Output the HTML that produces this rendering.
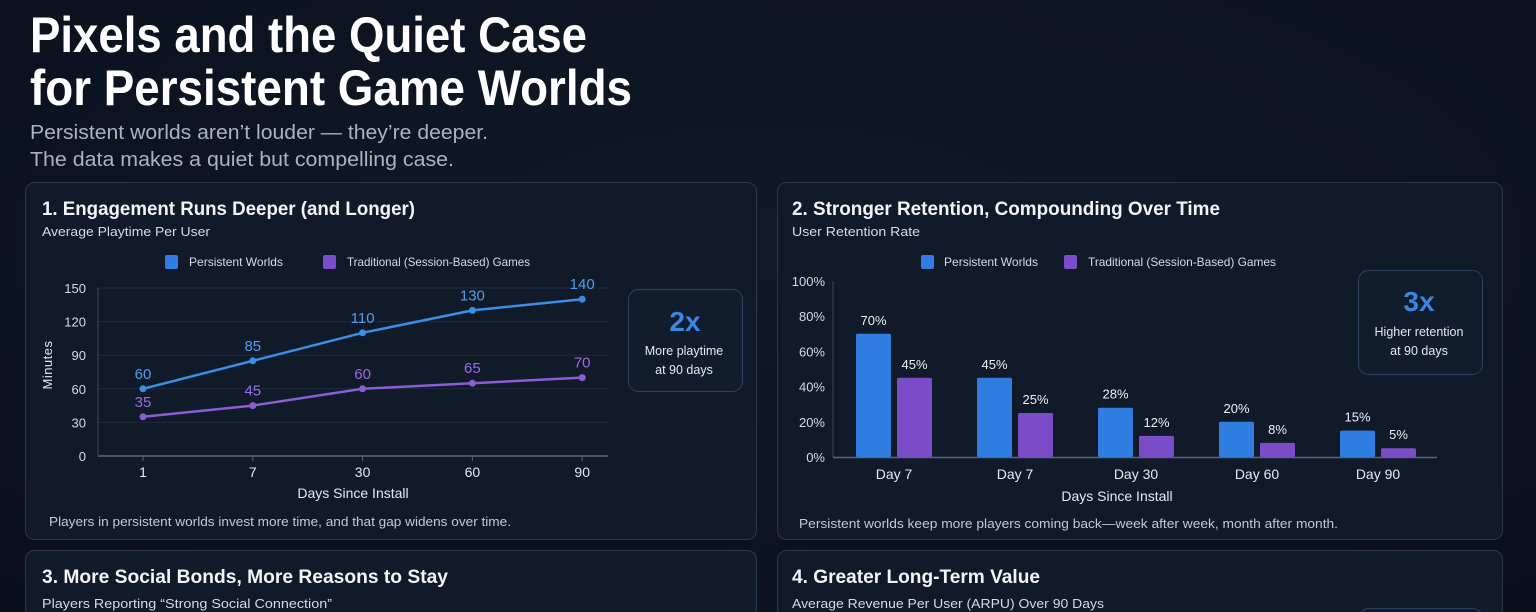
<!DOCTYPE html>
<html><head><meta charset="utf-8"><style>
html,body{margin:0;padding:0;width:1536px;height:612px;overflow:hidden;background:#0b111d}
svg{display:block;font-family:"Liberation Sans",sans-serif}
</style></head><body>
<svg id="pg" width="1536" height="612" viewBox="0 0 1536 612">
<defs>
<radialGradient id="bg" cx="0.5" cy="0.4" r="0.8"><stop offset="0" stop-color="#111a2a"/><stop offset="1" stop-color="#0a0f1a"/></radialGradient>
</defs>
<rect width="1536" height="612" fill="url(#bg)"/>
<text x="30" y="52" font-size="50" font-weight="bold" fill="#fff" textLength="557" lengthAdjust="spacingAndGlyphs">Pixels and the Quiet Case</text>
<text x="30" y="105" font-size="50" font-weight="bold" fill="#fff" textLength="602" lengthAdjust="spacingAndGlyphs">for Persistent Game Worlds</text>
<text x="30" y="139" font-size="20" fill="#aab3c2" textLength="458" lengthAdjust="spacingAndGlyphs">Persistent worlds aren’t louder — they’re deeper.</text>
<text x="30" y="166" font-size="20" fill="#aab3c2" textLength="424" lengthAdjust="spacingAndGlyphs">The data makes a quiet but compelling case.</text>

<g>
<rect x="25.5" y="182.5" width="731" height="357" rx="9" fill="#111a29" stroke="#2a3850"/>
<text x="42" y="215" font-size="19" font-weight="bold" fill="#f2f4f8" textLength="373" lengthAdjust="spacingAndGlyphs">1. Engagement Runs Deeper (and Longer)</text>
<text x="42" y="236" font-size="13" fill="#d6dbe3" textLength="168" lengthAdjust="spacingAndGlyphs">Average Playtime Per User</text>
<rect x="165" y="255" width="13" height="14" rx="2" fill="#2f7de0"/>
<text x="189" y="266" font-size="12" fill="#d6dbe3" textLength="94" lengthAdjust="spacingAndGlyphs">Persistent Worlds</text>
<rect x="323" y="255" width="13" height="14" rx="2" fill="#7b4cc8"/>
<text x="347" y="266" font-size="12" fill="#d6dbe3" textLength="183" lengthAdjust="spacingAndGlyphs">Traditional (Session-Based) Games</text>
<g id="c1"></g>
<text x="353" y="498" font-size="14" fill="#e6e9ef" text-anchor="middle">Days Since Install</text>
<text transform="translate(52,365) rotate(-90)" font-size="13" fill="#e6e9ef" text-anchor="middle" letter-spacing="0.5">Minutes</text>
<rect x="628.5" y="289.5" width="114" height="102" rx="10" fill="#111c2c" stroke="#2d4260"/>
<text x="685" y="331" font-size="28" font-weight="bold" fill="#3a86e0" text-anchor="middle">2x</text>
<text x="684" y="355" font-size="12.5" fill="#e6e9ef" text-anchor="middle">More playtime</text>
<text x="684" y="374" font-size="12.5" fill="#e6e9ef" text-anchor="middle">at 90 days</text>
<text x="49" y="526" font-size="13" fill="#c4cad4" textLength="462" lengthAdjust="spacingAndGlyphs">Players in persistent worlds invest more time, and that gap widens over time.</text>
</g>

<g>
<rect x="777.5" y="182.5" width="725" height="357" rx="9" fill="#111a29" stroke="#2a3850"/>
<text x="792" y="215" font-size="19" font-weight="bold" fill="#f2f4f8" textLength="428" lengthAdjust="spacingAndGlyphs">2. Stronger Retention, Compounding Over Time</text>
<text x="792" y="236" font-size="13" fill="#d6dbe3" textLength="128" lengthAdjust="spacingAndGlyphs">User Retention Rate</text>
<rect x="921" y="255" width="13" height="14" rx="2" fill="#2f7de0"/>
<text x="944" y="266" font-size="12" fill="#d6dbe3" textLength="94" lengthAdjust="spacingAndGlyphs">Persistent Worlds</text>
<rect x="1064" y="255" width="13" height="14" rx="2" fill="#7b4cc8"/>
<text x="1088" y="266" font-size="12" fill="#d6dbe3" textLength="188" lengthAdjust="spacingAndGlyphs">Traditional (Session-Based) Games</text>
<g id="c2"></g>
<text x="1117" y="501" font-size="14" fill="#e6e9ef" text-anchor="middle">Days Since Install</text>
<rect x="1358.5" y="270.5" width="124" height="104" rx="10" fill="#111c2c" stroke="#2d4260"/>
<text x="1419" y="311" font-size="28" font-weight="bold" fill="#3a86e0" text-anchor="middle">3x</text>
<text x="1419" y="336" font-size="12.5" fill="#e6e9ef" text-anchor="middle">Higher retention</text>
<text x="1419" y="355" font-size="12.5" fill="#e6e9ef" text-anchor="middle">at 90 days</text>
<text x="799" y="528" font-size="13" fill="#c4cad4" textLength="539" lengthAdjust="spacingAndGlyphs">Persistent worlds keep more players coming back—week after week, month after month.</text>
</g>

<g>
<rect x="25.5" y="550.5" width="731" height="80" rx="9" fill="#111a29" stroke="#2a3850"/>
<text x="42" y="583" font-size="19" font-weight="bold" fill="#f2f4f8" textLength="406" lengthAdjust="spacingAndGlyphs">3. More Social Bonds, More Reasons to Stay</text>
<text x="42" y="608" font-size="13" fill="#d6dbe3" textLength="290" lengthAdjust="spacingAndGlyphs">Players Reporting “Strong Social Connection”</text>
</g>
<g>
<rect x="777.5" y="550.5" width="725" height="80" rx="9" fill="#111a29" stroke="#2a3850"/>
<text x="792" y="583" font-size="19" font-weight="bold" fill="#f2f4f8" textLength="248" lengthAdjust="spacingAndGlyphs">4. Greater Long-Term Value</text>
<text x="792" y="608" font-size="13" fill="#d6dbe3" textLength="312" lengthAdjust="spacingAndGlyphs">Average Revenue Per User (ARPU) Over 90 Days</text>
<rect x="1358.5" y="608.5" width="124" height="20" rx="10" fill="#111c2c" stroke="#2d4260"/>
</g>
</svg>
<script>
// Chart 1 data
const lineCats = ["1","7","30","60","90"];
const persistentMinutes = [60,85,110,130,140];
const traditionalMinutes = [35,45,60,65,70];
const minuteTicks = [0,30,60,90,120,150];
// Chart 2 data
const barCats = ["Day 7","Day 7","Day 30","Day 60","Day 90"];
const persistentRetention = [70,45,28,20,15];
const traditionalRetention = [45,25,12,8,5];
const pctTicks = [0,20,40,60,80,100];

const NS="http://www.w3.org/2000/svg";
function mk(p,tag,attrs,txt){const e=document.createElementNS(NS,tag);for(const k in attrs)e.setAttribute(k,attrs[k]);if(txt!==undefined)e.textContent=txt;p.appendChild(e);return e;}

// chart 1
const c1=document.getElementById('c1');
const y1=v=>456-v*(456-288)/150;
const x1=i=>143+i*109.8;
minuteTicks.forEach(t=>{
  const g=mk(c1,'line',{x1:98,x2:608,y1:y1(t),y2:y1(t),stroke:t===0?'#5a6680':'#1f2b3e','stroke-width':t===0?1.5:1});
  
  
  const l=mk(c1,'text',{x:86,y:y1(t)+5,'font-size':13,fill:'#d6dbe3','text-anchor':'end'},t);
  
  
});
const ax=mk(c1,'line',{x1:98,x2:98,y1:288,y2:456,stroke:'#3a4760'});


lineCats.forEach((c,i)=>{
  mk(c1,'line',{x1:x1(i),x2:x1(i),y1:456,y2:461,stroke:'#5a6680'});
  const l=mk(c1,'text',{x:x1(i),y:477,'font-size':14,fill:'#e6e9ef','text-anchor':'middle'},c);
  
  
});
function series(vals,color,lbl,name){
  const pts=vals.map((v,i)=>x1(i)+','+y1(v)).join(' ');
  const pl=mk(c1,'polyline',{points:pts,fill:'none',stroke:color,'stroke-width':2.5});
  
  
  vals.forEach((v,i)=>{
    const d=mk(c1,'circle',{cx:x1(i),cy:y1(v),r:3.5,fill:color});
    
    
    const t=mk(c1,'text',{x:x1(i),y:y1(v)-10,'font-size':15,fill:lbl,'text-anchor':'middle'},v);
    
    
  });
}
series(persistentMinutes,'#3b8ee6','#4f9cf0','persistent');
series(traditionalMinutes,'#8a5cd6','#9b6ae6','traditional');

// chart 2
const c2=document.getElementById('c2');
const y2=v=>457-v*(457-281)/100;
const gx=i=>894+i*121;
pctTicks.forEach(t=>{
  const l=mk(c2,'text',{x:825,y:y2(t)+5,'font-size':13,fill:'#d6dbe3','text-anchor':'end'},t+'%');
  
  
});
const a2=mk(c2,'line',{x1:833,x2:833,y1:281,y2:457,stroke:'#3a4760'});


const b2=mk(c2,'line',{x1:833,x2:1437,y1:457.5,y2:457.5,stroke:'#5a6680','stroke-width':1.5});


barCats.forEach((c,i)=>{
  const l=mk(c2,'text',{x:gx(i),y:479,'font-size':14,fill:'#e6e9ef','text-anchor':'middle'},c);
  
  
  [[persistentRetention[i],'#2f7de0',-38,'persistent'],[traditionalRetention[i],'#7b4cc8',3,'traditional']].forEach(([v,col,off,nm])=>{
    const r=mk(c2,'rect',{x:gx(i)+off,y:y2(v),width:35,height:457-y2(v),fill:col,rx:1.5});
    
    
    const t=mk(c2,'text',{x:gx(i)+off+17.5,y:y2(v)-9,'font-size':13,fill:'#eef0f4','text-anchor':'middle'},v+'%');
    
    
  });
});
</script>
</body></html>
